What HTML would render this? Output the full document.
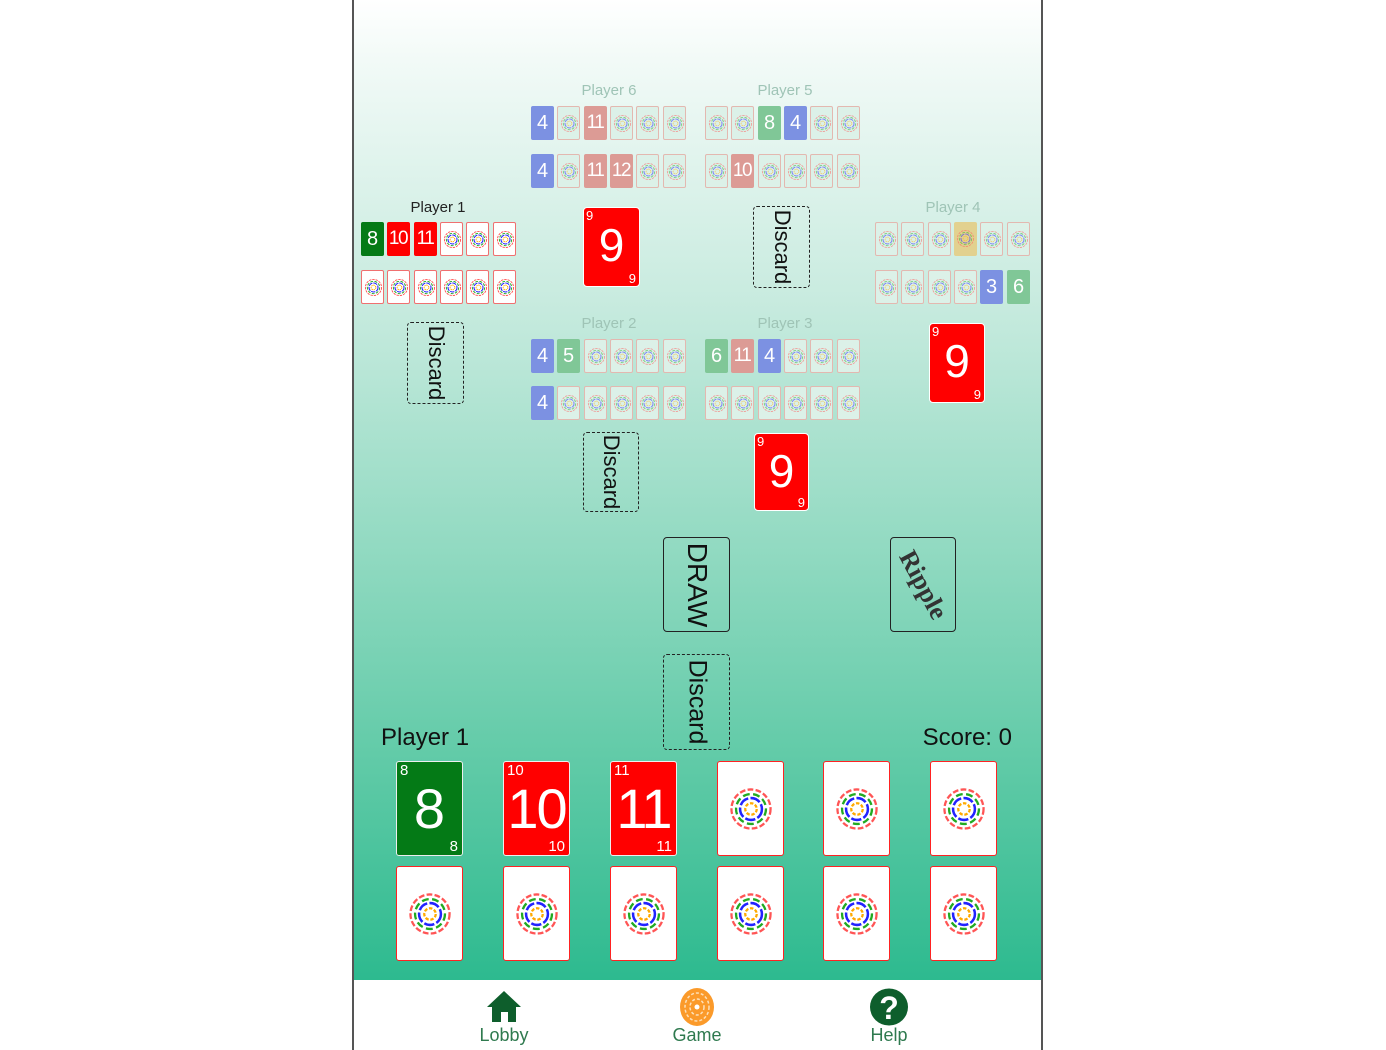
<!DOCTYPE html>
<html><head><meta charset="utf-8"><style>
*{margin:0;padding:0}
body{width:1386px;height:1050px;background:#fff;position:relative;overflow:hidden;font-family:"Liberation Sans",sans-serif}
#frame{position:absolute;left:352px;top:0;width:687px;height:1050px;border-left:2px solid #555;border-right:2px solid #555;background:#fff}
#bg{position:absolute;left:354px;top:0;width:687px;height:980px;background:linear-gradient(to bottom,#ffffff 0px,#f2faf7 60px,#c8ebdf 300px,#8fd9c0 560px,#5cc9a5 780px,#2dba8f 980px)}
.c{position:absolute;width:23px;height:34px;box-sizing:border-box;border-radius:2px;color:#fff;text-align:center;line-height:34px;font-size:20px;overflow:hidden}
.c.t{font-size:19px;letter-spacing:-1.5px;text-indent:-1px}
.bk{background:#fff;border:1px solid #f07070}
.f .bk{background:#dcf1e8;border-color:#e3b8b0}
.bl{background:#7c91e2}.gr{background:#80c797}.rf{background:#dc9b95}.ye{background:#e2d18f}
.G{background:#047a16}.R{background:#ff0000}
.c svg{position:absolute;left:2px;top:7px;width:19px;height:19px}
.f svg{opacity:.5}
.lbl{position:absolute;font-size:15px;color:#9fc4b6;transform:translateX(-50%)}
.m{position:absolute;box-sizing:border-box;border-radius:4px}
.red9{background:#ff0000;border:1px solid #fff;color:#fff}
.red9 .big{position:absolute;left:0;right:0;top:10px;text-align:center;font-size:46px}
.red9 .tl{position:absolute;left:2px;top:0;font-size:13px}
.red9 .br{position:absolute;right:3px;bottom:0;font-size:13px}
.disc{border:1.5px dashed #222}
.rot{position:absolute;left:50%;top:50%;transform:translate(-50%,-50%) rotate(90deg);font-size:22px;color:#111;white-space:nowrap}
.B{position:absolute;width:67px;height:95px;box-sizing:border-box;border-radius:3px;color:#fff;overflow:hidden}
.B.bk{background:#fff;border:1.5px solid #f22}
.B.G,.B.R{border:1.5px solid #eee}
.B .big{position:absolute;left:0;right:0;top:14px;text-align:center;font-size:56px}
.B .tl{position:absolute;left:3px;top:0;font-size:15px}
.B .br{position:absolute;right:4px;bottom:0;font-size:15px}
.B svg{position:absolute;left:10px;top:24px;width:46px;height:46px}
.nav{position:absolute;top:1025px;font-size:18px;color:#2f7a4f;transform:translateX(-50%)}
</style></head><body>
<svg width="0" height="0" style="position:absolute"><defs><symbol id="p" viewBox="0 0 40 40">
<circle cx="20" cy="20" r="17" fill="none" stroke="#f55" stroke-width="2" stroke-dasharray="5 2"/>
<circle cx="20" cy="20" r="13" fill="none" stroke="#2a2" stroke-width="2" stroke-dasharray="6 3"/>
<circle cx="20" cy="20" r="9.5" fill="none" stroke="#22f" stroke-width="2.2" stroke-dasharray="9 2"/>
<circle cx="20" cy="20" r="5" fill="none" stroke="#fa0" stroke-width="2" stroke-dasharray="3 1.5"/>
</symbol></defs></svg>
<div id="frame"></div><div id="bg"></div>

<div class="lbl" style="left:609px;top:82px">Player 6</div>
<div class="lbl" style="left:785px;top:82px">Player 5</div>
<div class="lbl" style="left:438px;top:199px;color:#222">Player 1</div>
<div class="lbl" style="left:953px;top:199px">Player 4</div>
<div class="lbl" style="left:609px;top:315px">Player 2</div>
<div class="lbl" style="left:785px;top:315px">Player 3</div>

<div class="f">
<div class="c bl" style="left:531px;top:106px">4</div>
<div class="c bk" style="left:557px;top:106px"><svg><use href="#p"/></svg></div>
<div class="c rf t" style="left:584px;top:106px">11</div>
<div class="c bk" style="left:610px;top:106px"><svg><use href="#p"/></svg></div>
<div class="c bk" style="left:636px;top:106px"><svg><use href="#p"/></svg></div>
<div class="c bk" style="left:663px;top:106px"><svg><use href="#p"/></svg></div>
<div class="c bl" style="left:531px;top:154px">4</div>
<div class="c bk" style="left:557px;top:154px"><svg><use href="#p"/></svg></div>
<div class="c rf t" style="left:584px;top:154px">11</div>
<div class="c rf t" style="left:610px;top:154px">12</div>
<div class="c bk" style="left:636px;top:154px"><svg><use href="#p"/></svg></div>
<div class="c bk" style="left:663px;top:154px"><svg><use href="#p"/></svg></div>
<div class="c bk" style="left:705px;top:106px"><svg><use href="#p"/></svg></div>
<div class="c bk" style="left:731px;top:106px"><svg><use href="#p"/></svg></div>
<div class="c gr" style="left:758px;top:106px">8</div>
<div class="c bl" style="left:784px;top:106px">4</div>
<div class="c bk" style="left:810px;top:106px"><svg><use href="#p"/></svg></div>
<div class="c bk" style="left:837px;top:106px"><svg><use href="#p"/></svg></div>
<div class="c bk" style="left:705px;top:154px"><svg><use href="#p"/></svg></div>
<div class="c rf t" style="left:731px;top:154px">10</div>
<div class="c bk" style="left:758px;top:154px"><svg><use href="#p"/></svg></div>
<div class="c bk" style="left:784px;top:154px"><svg><use href="#p"/></svg></div>
<div class="c bk" style="left:810px;top:154px"><svg><use href="#p"/></svg></div>
<div class="c bk" style="left:837px;top:154px"><svg><use href="#p"/></svg></div>
<div class="c bk" style="left:875px;top:222px"><svg><use href="#p"/></svg></div>
<div class="c bk" style="left:901px;top:222px"><svg><use href="#p"/></svg></div>
<div class="c bk" style="left:928px;top:222px"><svg><use href="#p"/></svg></div>
<div class="c ye" style="left:954px;top:222px"><svg><use href="#p"/></svg></div>
<div class="c bk" style="left:980px;top:222px"><svg><use href="#p"/></svg></div>
<div class="c bk" style="left:1007px;top:222px"><svg><use href="#p"/></svg></div>
<div class="c bk" style="left:875px;top:270px"><svg><use href="#p"/></svg></div>
<div class="c bk" style="left:901px;top:270px"><svg><use href="#p"/></svg></div>
<div class="c bk" style="left:928px;top:270px"><svg><use href="#p"/></svg></div>
<div class="c bk" style="left:954px;top:270px"><svg><use href="#p"/></svg></div>
<div class="c bl" style="left:980px;top:270px">3</div>
<div class="c gr" style="left:1007px;top:270px">6</div>
<div class="c bl" style="left:531px;top:339px">4</div>
<div class="c gr" style="left:557px;top:339px">5</div>
<div class="c bk" style="left:584px;top:339px"><svg><use href="#p"/></svg></div>
<div class="c bk" style="left:610px;top:339px"><svg><use href="#p"/></svg></div>
<div class="c bk" style="left:636px;top:339px"><svg><use href="#p"/></svg></div>
<div class="c bk" style="left:663px;top:339px"><svg><use href="#p"/></svg></div>
<div class="c bl" style="left:531px;top:386px">4</div>
<div class="c bk" style="left:557px;top:386px"><svg><use href="#p"/></svg></div>
<div class="c bk" style="left:584px;top:386px"><svg><use href="#p"/></svg></div>
<div class="c bk" style="left:610px;top:386px"><svg><use href="#p"/></svg></div>
<div class="c bk" style="left:636px;top:386px"><svg><use href="#p"/></svg></div>
<div class="c bk" style="left:663px;top:386px"><svg><use href="#p"/></svg></div>
<div class="c gr" style="left:705px;top:339px">6</div>
<div class="c rf t" style="left:731px;top:339px">11</div>
<div class="c bl" style="left:758px;top:339px">4</div>
<div class="c bk" style="left:784px;top:339px"><svg><use href="#p"/></svg></div>
<div class="c bk" style="left:810px;top:339px"><svg><use href="#p"/></svg></div>
<div class="c bk" style="left:837px;top:339px"><svg><use href="#p"/></svg></div>
<div class="c bk" style="left:705px;top:386px"><svg><use href="#p"/></svg></div>
<div class="c bk" style="left:731px;top:386px"><svg><use href="#p"/></svg></div>
<div class="c bk" style="left:758px;top:386px"><svg><use href="#p"/></svg></div>
<div class="c bk" style="left:784px;top:386px"><svg><use href="#p"/></svg></div>
<div class="c bk" style="left:810px;top:386px"><svg><use href="#p"/></svg></div>
<div class="c bk" style="left:837px;top:386px"><svg><use href="#p"/></svg></div>
</div>

<div class="c G" style="left:361px;top:222px">8</div>
<div class="c R t" style="left:387px;top:222px">10</div>
<div class="c R t" style="left:414px;top:222px">11</div>
<div class="c bk" style="left:440px;top:222px"><svg><use href="#p"/></svg></div>
<div class="c bk" style="left:466px;top:222px"><svg><use href="#p"/></svg></div>
<div class="c bk" style="left:493px;top:222px"><svg><use href="#p"/></svg></div>
<div class="c bk" style="left:361px;top:270px"><svg><use href="#p"/></svg></div>
<div class="c bk" style="left:387px;top:270px"><svg><use href="#p"/></svg></div>
<div class="c bk" style="left:414px;top:270px"><svg><use href="#p"/></svg></div>
<div class="c bk" style="left:440px;top:270px"><svg><use href="#p"/></svg></div>
<div class="c bk" style="left:466px;top:270px"><svg><use href="#p"/></svg></div>
<div class="c bk" style="left:493px;top:270px"><svg><use href="#p"/></svg></div>

<div class="m red9" style="left:583px;top:207px;width:57px;height:80px"><span class="tl">9</span><span class="big">9</span><span class="br">9</span></div>
<div class="m disc" style="left:753px;top:206px;width:57px;height:82px"><span class="rot">Discard</span></div>
<div class="m disc" style="left:407px;top:322px;width:57px;height:82px"><span class="rot">Discard</span></div>
<div class="m red9" style="left:929px;top:323px;width:56px;height:80px"><span class="tl">9</span><span class="big">9</span><span class="br">9</span></div>
<div class="m disc" style="left:583px;top:432px;width:56px;height:80px"><span class="rot">Discard</span></div>
<div class="m red9" style="left:754px;top:433px;width:55px;height:78px"><span class="tl">9</span><span class="big">9</span><span class="br">9</span></div>
<div class="m" style="left:663px;top:537px;width:67px;height:95px;border:1.5px solid #222"><span class="rot" style="font-size:28px">DRAW</span></div>
<div class="m" style="left:890px;top:537px;width:66px;height:95px;border:1.5px solid #222"><span class="rot" style="font-size:26px;transform:translate(-50%,-50%) rotate(62deg);font-family:'Liberation Serif',serif;font-weight:bold;color:#333">Ripple</span></div>
<div class="m disc" style="left:663px;top:654px;width:67px;height:96px"><span class="rot" style="font-size:25px">Discard</span></div>

<div style="position:absolute;left:381px;top:724px;font-size:24px;color:#111">Player 1</div>
<div style="position:absolute;right:374px;top:724px;font-size:24px;color:#111">Score: 0</div>

<div class="B G" style="left:396px;top:761px"><span class="tl">8</span><span class="big">8</span><span class="br">8</span></div>
<div class="B R" style="left:503px;top:761px"><span class="tl">10</span><span class="big" style="letter-spacing:-2px">10</span><span class="br">10</span></div>
<div class="B R" style="left:610px;top:761px"><span class="tl">11</span><span class="big" style="letter-spacing:-2px">11</span><span class="br">11</span></div>
<div class="B bk" style="left:717px;top:761px"><svg><use href="#p"/></svg></div>
<div class="B bk" style="left:823px;top:761px"><svg><use href="#p"/></svg></div>
<div class="B bk" style="left:930px;top:761px"><svg><use href="#p"/></svg></div>
<div class="B bk" style="left:396px;top:866px"><svg><use href="#p"/></svg></div>
<div class="B bk" style="left:503px;top:866px"><svg><use href="#p"/></svg></div>
<div class="B bk" style="left:610px;top:866px"><svg><use href="#p"/></svg></div>
<div class="B bk" style="left:717px;top:866px"><svg><use href="#p"/></svg></div>
<div class="B bk" style="left:823px;top:866px"><svg><use href="#p"/></svg></div>
<div class="B bk" style="left:930px;top:866px"><svg><use href="#p"/></svg></div>

<svg style="position:absolute;left:486px;top:990px" width="36" height="32" viewBox="0 0 36 32"><path d="M18 1 L35 17 L30 17 L30 32 L22 32 L22 22 L15 22 L15 32 L6 32 L6 17 L1 17 Z" fill="#0e5e2c"/></svg>
<svg style="position:absolute;left:677px;top:987px" width="40" height="40" viewBox="0 0 40 40"><ellipse cx="20" cy="20" rx="17" ry="19" fill="#fb9a2a"/><ellipse cx="20" cy="20" rx="12" ry="14" fill="none" stroke="#fde0b8" stroke-width="1.5" stroke-dasharray="3 2"/><ellipse cx="20" cy="20" rx="7" ry="8" fill="none" stroke="#fde0b8" stroke-width="1.5" stroke-dasharray="3 2"/><circle cx="20" cy="20" r="2.5" fill="#fff"/></svg>
<svg style="position:absolute;left:869px;top:988px" width="40" height="38" viewBox="0 0 40 38"><ellipse cx="20" cy="19" rx="19" ry="18.5" fill="#0e5e2c"/><text x="20" y="31" text-anchor="middle" font-family="Liberation Sans" font-weight="bold" font-size="32" fill="#fff">?</text></svg>
<div class="nav" style="left:504px">Lobby</div>
<div class="nav" style="left:697px">Game</div>
<div class="nav" style="left:889px">Help</div>
</body></html>
